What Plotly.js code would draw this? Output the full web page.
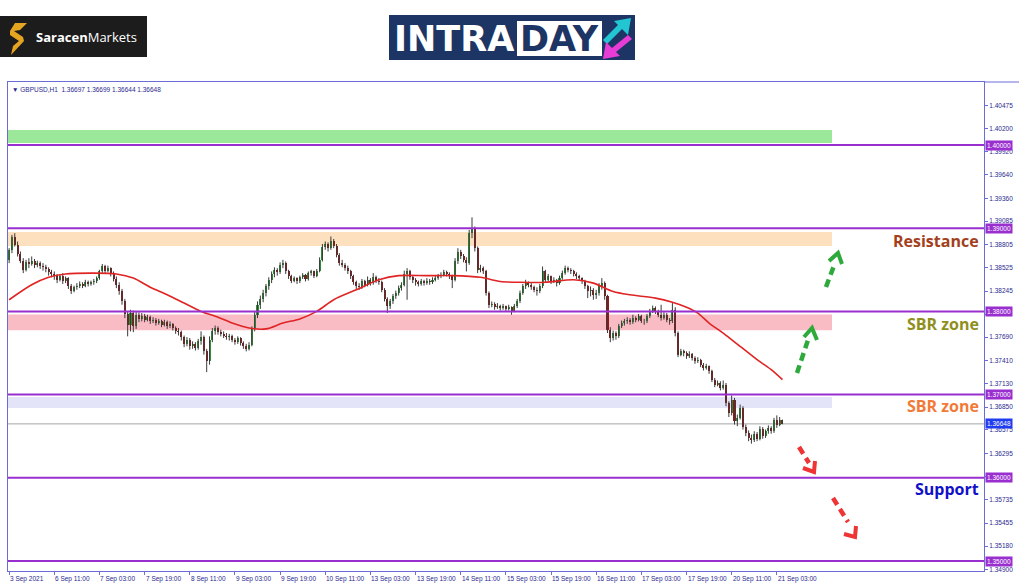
<!DOCTYPE html>
<html><head><meta charset="utf-8">
<script src="https://cdn.plot.ly/plotly-3.0.1.min.js"></script>
<style>html,body{margin:0;padding:0;background:#fff;}#chart{width:1024px;height:587px;}</style>
</head><body><div id="chart"></div>
<script>
// ---------------- DATA ----------------
const symbol = 'GBPUSD,H1';
const timeLabels = ['3 Sep 2021','6 Sep 11:00','7 Sep 03:00','7 Sep 19:00','8 Sep 11:00','9 Sep 03:00','9 Sep 19:00','10 Sep 11:00','13 Sep 03:00','13 Sep 19:00','14 Sep 11:00','15 Sep 03:00','15 Sep 19:00','16 Sep 11:00','17 Sep 03:00','17 Sep 19:00','20 Sep 11:00','21 Sep 03:00'];
const timeLabelBars = [0,16,32,48,64,80,96,112,128,144,160,176,192,208,224,240,256,272];

const open = [
1.3862,1.3874,1.3889,1.3880,1.3869,1.3861,1.3850,1.3859,1.3857,1.3861,
1.3856,1.3858,1.3855,1.3853,1.3851,1.3847,1.3845,1.3842,1.3838,1.3843,
1.3836,1.3840,1.3830,1.3825,1.3829,1.3831,1.3833,1.3831,1.3835,1.3833,
1.3835,1.3837,1.3840,1.3848,1.3854,1.3849,1.3852,1.3845,1.3839,1.3832,
1.3824,1.3812,1.3797,1.3784,1.3798,1.3782,1.3796,1.3791,1.3795,1.3790,
1.3793,1.3788,1.3790,1.3786,1.3788,1.3784,1.3787,1.3782,1.3785,1.3780,
1.3777,1.3775,1.3769,1.3761,1.3766,1.3758,1.3761,1.3756,1.3764,1.3769,
1.3752,1.3740,1.3766,1.3777,1.3780,1.3775,1.3773,1.3771,1.3769,1.3771,
1.3766,1.3763,1.3768,1.3762,1.3758,1.3755,1.3760,1.3779,1.3796,1.3808,
1.3815,1.3822,1.3830,1.3838,1.3845,1.3850,1.3847,1.3856,1.3858,1.3848,
1.3842,1.3837,1.3840,1.3836,1.3841,1.3844,1.3839,1.3846,1.3848,1.3843,
1.3849,1.3862,1.3878,1.3881,1.3876,1.3885,1.3879,1.3868,1.3858,1.3856,
1.3852,1.3848,1.3842,1.3835,1.3830,1.3829,1.3836,1.3832,1.3838,1.3834,
1.3841,1.3837,1.3835,1.3826,1.3815,1.3806,1.3812,1.3818,1.3822,1.3828,
1.3832,1.3845,1.3848,1.3841,1.3838,1.3835,1.3833,1.3836,1.3834,1.3837,
1.3835,1.3838,1.3840,1.3842,1.3844,1.3847,1.3845,1.3842,1.3838,1.3860,
1.3872,1.3866,1.3862,1.3858,1.3894,1.3899,1.3876,1.3850,1.3852,1.3848,
1.3822,1.3808,1.3809,1.3805,1.3807,1.3804,1.3806,1.3803,1.3805,1.3801,
1.3806,1.3812,1.3822,1.3830,1.3835,1.3832,1.3829,1.3826,1.3824,1.3830,
1.3848,1.3838,1.3842,1.3836,1.3838,1.3834,1.3840,1.3846,1.3852,1.3850,
1.3848,1.3845,1.3842,1.3840,1.3836,1.3830,1.3824,1.3826,1.3820,1.3822,
1.3830,1.3834,1.3818,1.3778,1.3768,1.3774,1.3770,1.3782,1.3786,1.3788,
1.3790,1.3787,1.3792,1.3790,1.3794,1.3789,1.3788,1.3794,1.3800,1.3804,
1.3800,1.3796,1.3792,1.3796,1.3790,1.3788,1.3802,1.3774,1.3748,1.3752,
1.3750,1.3746,1.3749,1.3744,1.3740,1.3742,1.3736,1.3732,1.3734,1.3728,
1.3718,1.3712,1.3714,1.3708,1.3712,1.3690,1.3678,1.3694,1.3668,1.3672,
1.3684,1.3661,1.3654,1.3648,1.3645,1.3653,1.3647,1.3659,1.3650,1.3656,
1.3660,1.3656,1.3669,1.3664,1.36697];

const high = [
1.3876,1.3892,1.3894,1.3884,1.3872,1.3864,1.3862,1.3864,1.3866,1.3863,
1.3861,1.3860,1.3858,1.3856,1.3853,1.3850,1.3848,1.3845,1.3845,1.3846,
1.3842,1.3841,1.3833,1.3831,1.3834,1.3836,1.3835,1.3838,1.3837,1.3837,
1.3839,1.3842,1.3850,1.3857,1.3856,1.3855,1.3853,1.3848,1.3842,1.3835,
1.3827,1.3815,1.3800,1.3802,1.3801,1.3800,1.3799,1.3798,1.3797,1.3796,
1.3795,1.3793,1.3792,1.3791,1.3790,1.3790,1.3789,1.3788,1.3786,1.3782,
1.3780,1.3777,1.3771,1.3769,1.3768,1.3764,1.3763,1.3767,1.3776,1.3771,
1.3755,1.3770,1.3780,1.3783,1.3782,1.3778,1.3776,1.3774,1.3773,1.3772,
1.3768,1.3770,1.3769,1.3764,1.3761,1.3763,1.3782,1.3800,1.3812,1.3819,
1.3826,1.3833,1.3841,1.3848,1.3853,1.3852,1.3859,1.3862,1.3860,1.3850,
1.3844,1.3842,1.3841,1.3843,1.3846,1.3845,1.3848,1.3850,1.3849,1.3851,
1.3865,1.3881,1.3884,1.3883,1.3890,1.3887,1.3881,1.3870,1.3862,1.3858,
1.3855,1.3850,1.3844,1.3837,1.3834,1.3839,1.3838,1.3842,1.3840,1.3846,
1.3843,1.3840,1.3837,1.3828,1.3817,1.3815,1.3821,1.3825,1.3831,1.3835,
1.3849,1.3852,1.3850,1.3843,1.3840,1.3837,1.3839,1.3838,1.3840,1.3839,
1.3841,1.3843,1.3845,1.3847,1.3850,1.3849,1.3847,1.3844,1.3864,1.3876,
1.3874,1.3869,1.3865,1.3898,1.3913,1.3902,1.3878,1.3856,1.3854,1.3850,
1.3824,1.3812,1.3811,1.3810,1.3808,1.3809,1.3807,1.3808,1.3806,1.3809,
1.3815,1.3825,1.3833,1.3838,1.3836,1.3834,1.3831,1.3829,1.3833,1.3854,
1.3850,1.3845,1.3843,1.3841,1.3839,1.3843,1.3849,1.3855,1.3854,1.3852,
1.3850,1.3847,1.3844,1.3841,1.3838,1.3832,1.3830,1.3828,1.3826,1.3834,
1.3840,1.3836,1.3820,1.3781,1.3777,1.3776,1.3785,1.3789,1.3791,1.3793,
1.3792,1.3796,1.3794,1.3797,1.3796,1.3791,1.3797,1.3803,1.3807,1.3806,
1.3802,1.3808,1.3799,1.3798,1.3792,1.3810,1.3805,1.3776,1.3755,1.3754,
1.3752,1.3752,1.3750,1.3746,1.3745,1.3743,1.3738,1.3737,1.3735,1.3730,
1.3720,1.3717,1.3716,1.3717,1.3714,1.3692,1.3699,1.3696,1.3676,1.3688,
1.3686,1.3664,1.3657,1.3652,1.3656,1.3655,1.3662,1.3661,1.3658,1.3663,
1.3662,1.3672,1.3675,1.3673,1.36699];

const low = [
1.3858,1.3870,1.3878,1.3866,1.3858,1.3846,1.3848,1.3852,1.3855,1.3852,
1.3853,1.3851,1.3849,1.3847,1.3843,1.3841,1.3838,1.3834,1.3836,1.3833,
1.3834,1.3827,1.3821,1.3823,1.3826,1.3828,1.3828,1.3829,1.3830,1.3831,
1.3832,1.3834,1.3838,1.3846,1.3846,1.3847,1.3842,1.3836,1.3828,1.3820,
1.3808,1.3792,1.3770,1.3776,1.3775,1.3779,1.3787,1.3788,1.3787,1.3788,
1.3785,1.3786,1.3783,1.3784,1.3781,1.3782,1.3779,1.3780,1.3777,1.3773,
1.3771,1.3765,1.3757,1.3758,1.3754,1.3755,1.3753,1.3754,1.3760,1.3748,
1.3727,1.3736,1.3763,1.3772,1.3772,1.3770,1.3768,1.3766,1.3765,1.3763,
1.3760,1.3761,1.3759,1.3755,1.3752,1.3753,1.3758,1.3776,1.3792,1.3803,
1.3811,1.3818,1.3826,1.3834,1.3841,1.3843,1.3845,1.3852,1.3845,1.3839,
1.3834,1.3835,1.3833,1.3834,1.3839,1.3836,1.3837,1.3843,1.3840,1.3841,
1.3847,1.3860,1.3874,1.3872,1.3874,1.3876,1.3865,1.3855,1.3853,1.3849,
1.3845,1.3839,1.3832,1.3827,1.3826,1.3827,1.3829,1.3830,1.3831,1.3832,
1.3834,1.3832,1.3823,1.3812,1.3798,1.3803,1.3809,1.3815,1.3819,1.3825,
1.3830,1.3814,1.3838,1.3834,1.3831,1.3830,1.3831,1.3831,1.3832,1.3832,
1.3833,1.3836,1.3838,1.3840,1.3842,1.3842,1.3839,1.3828,1.3836,1.3857,
1.3863,1.3859,1.3848,1.3856,1.3888,1.3872,1.3846,1.3847,1.3845,1.3819,
1.3804,1.3805,1.3802,1.3803,1.3801,1.3802,1.3800,1.3801,1.3796,1.3799,
1.3804,1.3810,1.3820,1.3827,1.3829,1.3826,1.3823,1.3819,1.3822,1.3828,
1.3835,1.3836,1.3833,1.3834,1.3830,1.3832,1.3838,1.3844,1.3847,1.3845,
1.3842,1.3839,1.3837,1.3833,1.3827,1.3816,1.3818,1.3814,1.3815,1.3819,
1.3826,1.3814,1.3774,1.3763,1.3765,1.3766,1.3768,1.3780,1.3783,1.3785,
1.3784,1.3785,1.3787,1.3788,1.3786,1.3784,1.3786,1.3792,1.3798,1.3797,
1.3793,1.3789,1.3790,1.3787,1.3784,1.3786,1.3770,1.3745,1.3746,1.3746,
1.3743,1.3744,1.3741,1.3737,1.3738,1.3733,1.3729,1.3730,1.3725,1.3715,
1.3709,1.3710,1.3705,1.3706,1.3686,1.3673,1.3675,1.3664,1.3662,1.3670,
1.3658,1.3650,1.3644,1.3641,1.3643,1.3644,1.3645,1.3647,1.3648,1.3653,
1.3653,1.3654,1.3660,1.3662,1.36644];

const close = [
1.3874,1.3889,1.3880,1.3869,1.3861,1.3850,1.3859,1.3857,1.3861,1.3856,
1.3858,1.3855,1.3853,1.3851,1.3847,1.3845,1.3842,1.3838,1.3843,1.3836,
1.3840,1.3830,1.3825,1.3829,1.3831,1.3833,1.3831,1.3835,1.3833,1.3835,
1.3837,1.3840,1.3848,1.3854,1.3849,1.3852,1.3845,1.3839,1.3832,1.3824,
1.3812,1.3797,1.3784,1.3798,1.3782,1.3796,1.3791,1.3795,1.3790,1.3793,
1.3788,1.3790,1.3786,1.3788,1.3784,1.3787,1.3782,1.3785,1.3780,1.3777,
1.3775,1.3769,1.3761,1.3766,1.3758,1.3761,1.3756,1.3764,1.3769,1.3752,
1.3740,1.3766,1.3777,1.3780,1.3775,1.3773,1.3771,1.3769,1.3771,1.3766,
1.3763,1.3768,1.3762,1.3758,1.3755,1.3760,1.3779,1.3796,1.3808,1.3815,
1.3822,1.3830,1.3838,1.3845,1.3850,1.3847,1.3856,1.3858,1.3848,1.3842,
1.3837,1.3840,1.3836,1.3841,1.3844,1.3839,1.3846,1.3848,1.3843,1.3849,
1.3862,1.3878,1.3881,1.3876,1.3885,1.3879,1.3868,1.3858,1.3856,1.3852,
1.3848,1.3842,1.3835,1.3830,1.3829,1.3836,1.3832,1.3838,1.3834,1.3841,
1.3837,1.3835,1.3826,1.3815,1.3806,1.3812,1.3818,1.3822,1.3828,1.3832,
1.3845,1.3848,1.3841,1.3838,1.3835,1.3833,1.3836,1.3834,1.3837,1.3835,
1.3838,1.3840,1.3842,1.3844,1.3847,1.3845,1.3842,1.3838,1.3860,1.3872,
1.3866,1.3862,1.3858,1.3894,1.3899,1.3876,1.3850,1.3852,1.3848,1.3822,
1.3808,1.3809,1.3805,1.3807,1.3804,1.3806,1.3803,1.3805,1.3801,1.3806,
1.3812,1.3822,1.3830,1.3835,1.3832,1.3829,1.3826,1.3824,1.3830,1.3848,
1.3838,1.3842,1.3836,1.3838,1.3834,1.3840,1.3846,1.3852,1.3850,1.3848,
1.3845,1.3842,1.3840,1.3836,1.3830,1.3824,1.3826,1.3820,1.3822,1.3830,
1.3834,1.3818,1.3778,1.3768,1.3774,1.3770,1.3782,1.3786,1.3788,1.3790,
1.3787,1.3792,1.3790,1.3794,1.3789,1.3788,1.3794,1.3800,1.3804,1.3800,
1.3796,1.3792,1.3796,1.3790,1.3788,1.3802,1.3774,1.3748,1.3752,1.3750,
1.3746,1.3749,1.3744,1.3740,1.3742,1.3736,1.3732,1.3734,1.3728,1.3718,
1.3712,1.3714,1.3708,1.3712,1.3690,1.3678,1.3694,1.3668,1.3672,1.3684,
1.3661,1.3654,1.3648,1.3645,1.3653,1.3647,1.3659,1.3650,1.3656,1.3660,
1.3656,1.3669,1.3664,1.3670,1.36648];

// moving average (red line), read at sampled bars
const maBars = [0,8,14,20,30,38,44,50,56,62,68,74,79,85,91,97,103,109,115,123,131,138,148,157,167,174,181,190,200,207,214,220,229,235,240,244,248,253,259,265,270,274];
const maValues = [1.3814,1.3832,1.3841,1.3845,1.3846,1.3845,1.3840,1.3829,1.3820,1.3810,1.3800,1.3793,1.3786,1.3780,1.3779,1.3786,1.3791,1.3800,1.3814,1.3826,1.3838,1.3843,1.3843,1.3843,1.3841,1.3836,1.3835,1.3835,1.3838,1.3834,1.3824,1.3820,1.3816,1.3811,1.3805,1.3798,1.3786,1.3774,1.3758,1.3742,1.3730,1.3718];

const levelPrices = [1.40000,1.39000,1.38000,1.37000,1.36000,1.35000];
const currentPrice = 1.36648;
const zoneLow  = [1.40024,1.38786,1.37772,1.36838];
const zoneHigh = [1.40180,1.38954,1.37964,1.36970];
const zoneColors = ['#9be89b','#fde0bd','#f9bcc5','#e4e4f8'];
const priceTicks = [1.34900,1.35180,1.35455,1.35735,1.36015,1.36295,1.36575,1.36850,1.37130,1.37410,1.37690,1.37965,1.38245,1.38525,1.38805,1.39085,1.39360,1.39640,1.39920,1.40200,1.40475];
const hiddenTicks = [1.36015,1.37965]; // covered by the level tags in the reference
const zoneLabels = ['Resistance','SBR zone','SBR zone','Support'];
const zoneLabelColors = ['#a3401c','#8f8f1c','#f27a38','#1010c8'];
const headerOHLC = ['1.36697','1.36699','1.36644','1.36648'];

// ---------------- LAYOUT HELPERS ----------------
const PL=8, PR=984, PT=82, PB=571;
const X = x => (x-PL)/(PR-PL);
const Y = y => (PB-y)/(PB-PT);
const poly = pts => 'M ' + pts.map(p => X(p[0]).toFixed(5)+' '+Y(p[1]).toFixed(5)).join(' L ') + ' Z';
const pline = pts => 'M ' + pts.map(p => X(p[0]).toFixed(5)+' '+Y(p[1]).toFixed(5)).join(' L ');

const frameColor = '#6c6cd8';
const tickTextColor = '#2a2a90';
const purple = '#9a2fd0';

// ---------------- TRACES ----------------
const bars = close.map((_, i) => i);
const wx = [], wy = [];
bars.forEach(i => { wx.push(i, i, null); wy.push(low[i], high[i], null); });
const wicks = {type:'scatter', mode:'lines', x:wx, y:wy, line:{color:'#3a3a3a', width:1}, hoverinfo:'skip', showlegend:false};
const bodies = {
  type:'bar', x:bars,
  base: bars.map(i => Math.min(open[i], close[i])),
  y: bars.map(i => Math.abs(close[i]-open[i])),
  width:0.72,
  marker:{color: bars.map(i => close[i] >= open[i] ? '#2f8f35' : '#8e1b1b'), line:{width:0}},
  showlegend:false, hoverinfo:'skip'
};
const ma = {type:'scatter', mode:'lines', x:maBars, y:maValues, line:{color:'#e02424', width:1.6, shape:'spline', smoothing:0.8}, showlegend:false, hoverinfo:'skip'};

// ---------------- SHAPES ----------------
const shapes = [];
zoneLow.forEach((lo, k) => shapes.push({type:'rect', xref:'paper', yref:'y', x0:0, x1:X(832), y0:lo, y1:zoneHigh[k], fillcolor:zoneColors[k], line:{width:0}, layer:'below'}));
shapes.push({type:'line', xref:'paper', yref:'y', x0:0, x1:1, y0:currentPrice, y1:currentPrice, line:{color:'#a4a4a4', width:1}, layer:'below'});
levelPrices.forEach(p => shapes.push({type:'line', xref:'paper', yref:'y', x0:0, x1:1, y0:p, y1:p, line:{color:purple, width:2}, layer:'above'}));
shapes.push({type:'line', xref:'paper', yref:'paper', x0:1, x1:X(1019), y0:1, y1:1, line:{color:frameColor, width:1}});

function arrow(from, to, wingA, tip, wingB, color){
  shapes.push({type:'line', xref:'paper', yref:'paper', x0:X(from[0]), y0:Y(from[1]), x1:X(to[0]), y1:Y(to[1]), line:{color:color, width:4.5, dash:'8px,5px'}});
  shapes.push({type:'path', xref:'paper', yref:'paper', path:pline([wingA, tip, wingB]), line:{color:color, width:4}});
}
const green = '#2eaa3c', red = '#ee3434';
arrow([826,287],[835,263],[829,261],[838,253],[842,264],green);
arrow([797,373],[808,340],[804,337],[812,328],[817,340],green);
arrow([799,447],[809,463],[803,468],[814,472],[815,461],red);
arrow([833,498],[848,522],[844,534],[855,537],[856,526],red);

// Saracen logo
shapes.push({type:'rect', xref:'paper', yref:'paper', x0:X(0), x1:X(147), y0:Y(16), y1:Y(57), fillcolor:'#1c1c1c', line:{width:0}});
shapes.push({type:'path', xref:'paper', yref:'paper', path:poly([[15,23],[27,23],[20,30],[14,31],[23,37],[24,41],[11,55],[13,46],[19,41],[10,35],[10,31]]), fillcolor:'#e6a521', line:{width:0}});
// INTRADAY logo
shapes.push({type:'rect', xref:'paper', yref:'paper', x0:X(389), x1:X(635), y0:Y(15), y1:Y(60), fillcolor:'#1c3564', line:{width:0}});
shapes.push({type:'rect', xref:'paper', yref:'paper', x0:X(517), x1:X(602), y0:Y(21), y1:Y(56), fillcolor:'#ffffff', line:{width:0}});
shapes.push({type:'path', xref:'paper', yref:'paper', path:poly([[631,18],[628,35],[622,29],[607,44],[603,40],[618,25],[614,21]]), fillcolor:'#22c6d3', line:{width:0}});
shapes.push({type:'path', xref:'paper', yref:'paper', path:poly([[603,59],[606,42],[612,48],[628,35],[632,39],[616,52],[620,56]]), fillcolor:'#e83cd6', line:{width:0}});

// ---------------- ANNOTATIONS ----------------
const ann = [];
const tickFont = {family:'Liberation Sans, Arial, sans-serif', size:6.5, color:tickTextColor};
timeLabels.forEach((t, k) => ann.push({xref:'x', yref:'paper', x:timeLabelBars[k], y:0, xanchor:'left', yanchor:'top', yshift:-2, xshift:-1, text:t, showarrow:false, font:tickFont}));
levelPrices.forEach(p => ann.push({xref:'paper', yref:'y', x:1, y:p, xanchor:'left', yanchor:'middle', xshift:1, text:p.toFixed(5), showarrow:false, bgcolor:purple, borderpad:1, font:{family:'Liberation Sans, Arial, sans-serif', size:6.5, color:'#ffffff'}}));
ann.push({xref:'paper', yref:'y', x:1, y:currentPrice, xanchor:'left', yanchor:'middle', xshift:1, text:currentPrice.toFixed(5), showarrow:false, bgcolor:'#1f3cf0', borderpad:1, font:{family:'Liberation Sans, Arial, sans-serif', size:6.5, color:'#ffffff'}});
ann.push({xref:'paper', yref:'paper', x:X(10), y:Y(89), xanchor:'left', yanchor:'middle', showarrow:false, text:'▼ ' + symbol + '  ' + headerOHLC.join(' '), font:{family:'Liberation Sans, Arial, sans-serif', size:6.5, color:'#2a2a90'}});
const labelY = [241, 324, 406, 489];
zoneLabels.forEach((t, k) => ann.push({xref:'paper', yref:'paper', x:X(981), y:Y(labelY[k]), xanchor:'right', yanchor:'middle', showarrow:false, text:'<b>'+t+'</b>', font:{family:'Open Sans, sans-serif', size:16, color:zoneLabelColors[k]}}));
ann.push({xref:'paper', yref:'paper', x:X(34), y:Y(37), xanchor:'left', yanchor:'middle', showarrow:false, text:'<b>Saracen</b>Markets', font:{family:'Open Sans, sans-serif', size:13, color:'#ffffff'}});
ann.push({xref:'paper', yref:'paper', x:X(516), y:Y(39.5), xanchor:'right', yanchor:'middle', showarrow:false, text:'<b>INTRA</b>', font:{family:'DejaVu Sans, sans-serif', size:35, color:'#ffffff'}});
ann.push({xref:'paper', yref:'paper', x:X(559.5), y:Y(39.5), xanchor:'center', yanchor:'middle', showarrow:false, text:'<b>DAY</b>', font:{family:'DejaVu Sans, sans-serif', size:35, color:'#1c3564'}});

// ---------------- LAYOUT ----------------
const layout = {
  width:1024, height:587,
  margin:{l:PL, r:1024-PR, t:PT, b:587-PB, pad:0},
  paper_bgcolor:'#ffffff', plot_bgcolor:'#ffffff',
  showlegend:false, bargap:0,
  xaxis:{range:[-0.4, 345.4], autorange:false, showgrid:false, zeroline:false, showline:true, mirror:true, linecolor:frameColor, linewidth:1,
         tickmode:'array', tickvals:timeLabelBars, ticktext:timeLabelBars.map(()=>''), ticks:'outside', ticklen:3, tickcolor:frameColor, showticklabels:false, fixedrange:true},
  yaxis:{range:[1.348798, 1.407572], autorange:false, side:'right', showgrid:false, zeroline:false, showline:true, mirror:true, linecolor:frameColor, linewidth:1,
         tickmode:'array', tickvals:priceTicks, ticktext:priceTicks.map(v => hiddenTicks.includes(v) ? '' : v.toFixed(5)), ticks:'outside', ticklen:3, tickcolor:frameColor, tickfont:tickFont, fixedrange:true},
  shapes:shapes, annotations:ann
};

Plotly.newPlot('chart', [wicks, bodies, ma], layout, {displayModeBar:false, staticPlot:true});
</script>
</body></html>
